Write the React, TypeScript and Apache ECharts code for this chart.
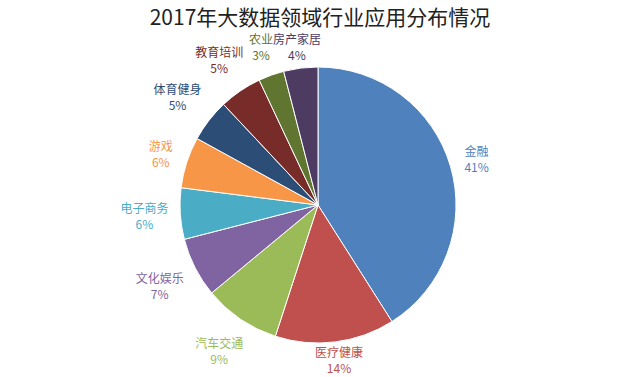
import React, { useEffect, useRef } from "react";
import * as echarts from "echarts";

const categories = ["金融", "医疗健康", "汽车交通", "文化娱乐", "电子商务", "游戏", "体育健身", "教育培训", "农业", "房产家居"];
const values = [41, 14, 9, 7, 6, 6, 5, 5, 3, 4];
const colors = ["#4F81BD", "#C0504D", "#9BBB59", "#8064A2", "#4BACC6", "#F79646", "#2C4D75", "#772C2A", "#5F7530", "#4D3B62"];
const titleText = "2017年大数据领域行业应用分布情况";

const FONT = '"Noto Sans CJK SC", "Noto Sans", sans-serif';
const W = 640;
const H = 377;
const CX = 318;
const CY = 205;
const R = 138;
const GAP = 11;
const TITLE_BOTTOM = 30;

export default function App() {
  const ref = useRef<HTMLDivElement>(null);
  useEffect(() => {
    if (!ref.current) return;
    const chart = echarts.init(ref.current, undefined, { renderer: "svg" });
    const data = categories.map((name, i) => ({
      name,
      value: values[i],
      itemStyle: { color: colors[i] },
      label: { color: colors[i] },
    }));
    chart.setOption({
      animation: false,
      backgroundColor: "#ffffff",
      title: {
        text: titleText,
        left: "center",
        top: 4,
        padding: [0, 5],
        textStyle: { fontFamily: FONT, fontSize: 21, lineHeight: 24, fontWeight: "normal", color: "#222" },
      },
      series: [
        {
          type: "pie",
          center: [CX, CY],
          radius: [0, R],
          startAngle: 90,
          clockwise: true,
          silent: true,
          itemStyle: { borderColor: "#ffffff", borderWidth: 1 },
          label: {
            show: true,
            position: "inside",
            formatter: "{b}\n{c}%",
            fontFamily: FONT,
            fontSize: 12,
            lineHeight: 16,
          },
          labelLine: { show: false },
          labelLayout: (p: any) => {
            const r = p.labelRect;
            const lx = r.x + r.width / 2;
            const ly = r.y + r.height / 2;
            let dx = lx - CX;
            let dy = ly - CY;
            const len = Math.hypot(dx, dy) || 1;
            dx /= len;
            dy /= len;
            const d = R + GAP + (r.width / 2) * Math.abs(dx) + (r.height / 2) * Math.abs(dy);
            const x = CX + d * dx;
            let y = CY + d * dy;
            y = Math.min(y, H - r.height / 2 - 2);
            y = Math.max(y, TITLE_BOTTOM + r.height / 2);
            return { x, y };
          },
          data,
        },
      ],
    });
    return () => chart.dispose();
  }, []);
  return <div ref={ref} style={{ position: "fixed", left: 0, top: 0, width: W, height: H }} />;
}
